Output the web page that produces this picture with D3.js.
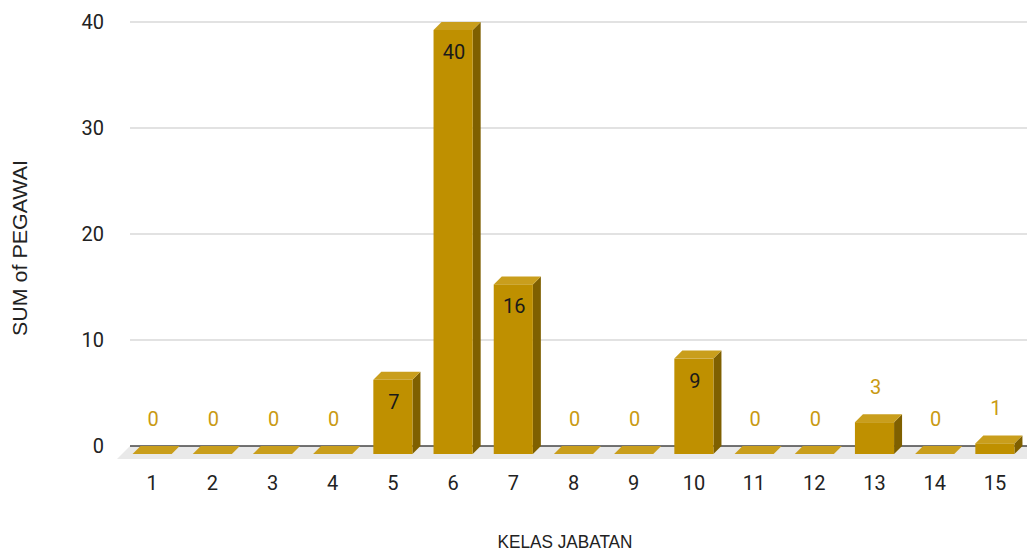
<!DOCTYPE html>
<html>
<head>
<meta charset="utf-8">
<script src="https://cdn.jsdelivr.net/npm/d3@7"></script>
<style>
  html, body { margin: 0; padding: 0; background: #fff; }
  svg { display: block; }
</style>
</head>
<body>
<svg id="chart" width="1027" height="552"></svg>
<script>
// Employee count per job class
const categories = ["1","2","3","4","5","6","7","8","9","10","11","12","13","14","15"];
const values = [0, 0, 0, 0, 7, 40, 16, 0, 0, 9, 0, 0, 3, 0, 1];
const yTicks = [0, 10, 20, 30, 40];
const yTitle = "SUM of PEGAWAI";
const xTitle = "KELAS JABATAN";

const W = 1027, H = 552;
const depthX = 8, depthY = 8;          // 3D extrusion offset
const backBase = 446;                   // zero line on back plane
const frontBase = backBase + depthY;

const svg = d3.select("#chart");

const x = d3.scaleBand().domain(categories).range([122, 1025]).paddingInner(0.35).paddingOuter(0.175);
const y = d3.scaleLinear().domain([0, 40]).range([backBase, 22]);

const cFront = "#bf9000", cTop = "#c99e1c", cSide = "#7f6000";
const tickFont = "Roboto, 'Liberation Sans', sans-serif";
const titleFont = "'Liberation Sans', Arial, sans-serif";

// floor
svg.append("polygon")
  .attr("points", [[130, backBase], [W, backBase], [W, frontBase + 5], [117, frontBase + 5]].map(p => p.join(",")).join(" "))
  .attr("fill", "#e9e9e9");

// gridlines
svg.append("g").selectAll("line").data(yTicks.filter(d => d !== 0)).join("line")
  .attr("x1", 130).attr("x2", W)
  .attr("y1", d => y(d)).attr("y2", d => y(d))
  .attr("stroke", "#d9d9d9").attr("stroke-width", 1.3);

// zero axis line
svg.append("line")
  .attr("x1", 130).attr("x2", W).attr("y1", y(0)).attr("y2", y(0))
  .attr("stroke", "#444").attr("stroke-width", 1.5);

// y tick labels
svg.append("g").selectAll("text").data(yTicks).join("text")
  .attr("x", 104).attr("y", d => y(d) + 6.5)
  .attr("text-anchor", "end")
  .attr("font-family", tickFont).attr("font-size", 20).attr("fill", "#222")
  .text(d => d);

// bars
const bars = svg.append("g").selectAll("g").data(categories.map((c, i) => ({ c, v: values[i] }))).join("g");
bars.each(function (d) {
  const g = d3.select(this);
  const x0 = x(d.c), w = x.bandwidth();
  const h = backBase - y(d.v);
  const fTop = frontBase - h;
  // side face
  g.append("polygon")
    .attr("points", [[x0 + w, frontBase], [x0 + w + depthX, backBase], [x0 + w + depthX, backBase - h], [x0 + w, fTop]].map(p => p.join(",")).join(" "))
    .attr("fill", cSide);
  // top face
  g.append("polygon")
    .attr("points", [[x0, fTop], [x0 + depthX, fTop - depthY], [x0 + w + depthX, fTop - depthY], [x0 + w, fTop]].map(p => p.join(",")).join(" "))
    .attr("fill", cTop);
  // front face
  if (h > 0) {
    g.append("rect").attr("x", x0).attr("y", fTop).attr("width", w).attr("height", h).attr("fill", cFront);
  }
  // value label: inside tall bars, above short ones
  const inside = h > 40;
  g.append("text")
    .attr("x", x0 + w / 2 + 1)
    .attr("y", inside ? fTop + 29 : fTop - 28)
    .attr("text-anchor", "middle")
    .attr("font-family", tickFont).attr("font-size", 20)
    .attr("fill", inside ? "#1a1a1a" : "#c99a12")
    .text(d.v);
});

// x tick labels
svg.append("g").selectAll("text").data(categories).join("text")
  .attr("x", d => x(d) + x.bandwidth() / 2)
  .attr("y", 490)
  .attr("text-anchor", "middle")
  .attr("font-family", tickFont).attr("font-size", 20).attr("fill", "#222")
  .text(d => d);

// axis titles
svg.append("text")
  .attr("x", 565).attr("y", 548)
  .attr("text-anchor", "middle")
  .attr("font-family", titleFont).attr("font-size", 19).attr("fill", "#222")
  .attr("textLength", 135).attr("lengthAdjust", "spacingAndGlyphs")
  .text(xTitle);

svg.append("text")
  .attr("transform", "translate(27,248) rotate(-90)")
  .attr("text-anchor", "middle")
  .attr("font-family", titleFont).attr("font-size", 20).attr("fill", "#222")
  .attr("textLength", 176).attr("lengthAdjust", "spacingAndGlyphs")
  .text(yTitle);
</script>
</body>
</html>
